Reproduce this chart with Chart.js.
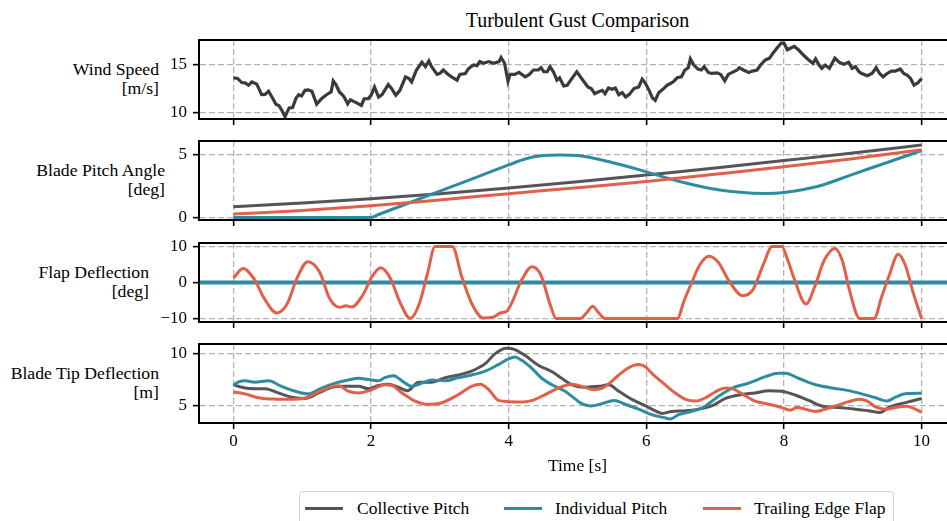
<!DOCTYPE html>
<html>
<head>
<meta charset="utf-8">
<script src="https://cdn.jsdelivr.net/npm/chart.js@4.4.1/dist/chart.umd.min.js"></script>
<style>
html, body { margin: 0; padding: 0; overflow: hidden; background: #fff; width: 947px; height: 521px; }
body { position: relative; font-family: "Liberation Serif", "Times New Roman", serif; color: #000; }
canvas { position: absolute; left: 0; }
.ylab { position: absolute; left: 0; text-align: right; font-size: 17.7px; line-height: 19px; white-space: nowrap; }
#title { position: absolute; left: 0; width: 1155px; top: 8px; text-align: center; font-size: 20px; line-height: 24px; }
#legend { position: absolute; left: 299px; top: 491px; width: 593px; height: 40px; border: 1.5px solid #d5d5d5; border-radius: 4px; }
.lg { position: absolute; top: 0; height: 32px; font-size: 17.5px; line-height: 32px; white-space: nowrap; }
.lg i { position: absolute; top: 15px; width: 38px; height: 3px; }
</style>
</head>
<body>
<div id="title">Turbulent Gust Comparison</div>
<div class="ylab" style="width:159px;top:60px">Wind Speed<br>[m/s]</div>
<div class="ylab" style="width:165px;top:161px">Blade Pitch Angle<br>[deg]</div>
<div class="ylab" style="width:149px;top:263px">Flap Deflection<br>[deg]</div>
<div class="ylab" style="width:159px;top:364px">Blade Tip Deflection<br>[m]</div>

<canvas id="p1" width="1000" height="91" style="top:36px"></canvas>
<canvas id="p2" width="1000" height="91" style="top:137px"></canvas>
<canvas id="p3" width="1000" height="91" style="top:239px"></canvas>
<canvas id="p4" width="1000" height="143" style="top:340px"></canvas>

<div id="legend">
  <div class="lg" style="left:5px"><i style="left:0;background:#555555"></i><span style="margin-left:52px">Collective Pitch</span></div>
  <div class="lg" style="left:204px"><i style="left:0;background:#2e8ba0"></i><span style="margin-left:51px">Individual Pitch</span></div>
  <div class="lg" style="left:403px"><i style="left:0;background:#e0604a"></i><span style="margin-left:51px">Trailing Edge Flap</span></div>
</div>

<script>
// series names
const seriesNames = ['Collective Pitch', 'Individual Pitch', 'Trailing Edge Flap'];
const colGray = '#555555', colTeal = '#2e8ba0', colRed = '#e0604a', colWind = '#3a3a3a';
const gridColor = '#b4b4b4';
const xTicks = [0, 2, 4, 6, 8, 10];

// wind speed [m/s]
const windT = [0,0.06,0.12,0.17,0.22,0.27,0.34,0.41,0.46,0.51,0.56,0.62,0.66,0.70,0.75,0.81,0.86,0.91,0.95,0.99,
  1.04,1.09,1.14,1.21,1.28,1.33,1.39,1.42,1.45,1.49,1.54,1.58,1.61,1.66,1.70,1.77,1.86,1.90,1.96,2.00,
  2.05,2.11,2.16,2.25,2.30,2.36,2.42,2.50,2.55,2.59,2.66,2.74,2.79,2.84,2.88,2.96,3.00,3.05,3.12,3.17,
  3.25,3.29,3.37,3.42,3.49,3.54,3.58,3.63,3.71,3.78,3.83,3.86,3.89,3.94,3.99,4.02,4.09,4.15,4.24,4.30,
  4.36,4.43,4.47,4.51,4.56,4.60,4.65,4.70,4.74,4.80,4.85,4.92,4.99,5.06,5.15,5.20,5.25,5.30,5.36,5.40,
  5.45,5.50,5.55,5.60,5.65,5.70,5.75,5.82,5.89,5.94,5.99,6.04,6.09,6.13,6.18,6.24,6.30,6.35,6.40,6.45,
  6.51,6.56,6.61,6.64,6.69,6.75,6.80,6.84,6.90,6.95,7.03,7.08,7.14,7.19,7.25,7.32,7.35,7.41,7.49,7.54,
  7.61,7.66,7.73,7.79,7.84,7.90,7.96,8.00,8.05,8.10,8.15,8.21,8.29,8.36,8.42,8.46,8.51,8.55,8.60,8.66,
  8.74,8.80,8.87,8.94,8.99,9.04,9.09,9.13,9.21,9.28,9.34,9.39,9.44,9.50,9.56,9.62,9.69,9.74,9.79,9.84,
  9.89,9.95,10.0];
const windV = [13.63,13.56,13.13,13.10,12.85,13.20,12.96,11.87,11.90,12.22,11.62,10.85,10.74,10.28,9.58,10.49,10.53,11.51,11.87,11.73,
  12.32,12.36,12.22,10.88,11.44,11.73,12.04,12.15,13.31,12.92,12.15,11.87,11.62,10.92,11.34,11.09,10.74,11.44,11.44,11.80,
  12.68,11.62,11.87,12.92,12.50,11.80,12.32,13.73,13.56,13.20,14.44,15.25,14.79,15.39,14.79,13.98,14.08,14.44,13.98,13.73,
  13.38,13.98,14.08,14.61,14.96,14.89,15.32,15.14,15.32,15.14,15.25,15.32,15.74,15.14,13.27,13.98,13.98,14.19,13.73,13.98,
  14.44,14.44,14.68,14.26,14.26,14.79,14.26,13.38,13.63,12.78,12.85,13.56,14.26,13.56,12.68,12.50,11.97,12.15,12.32,11.97,
  12.57,12.43,12.57,11.87,12.08,11.62,11.87,12.50,12.68,13.49,13.03,12.32,11.51,11.27,12.08,12.43,12.85,13.03,13.27,13.63,
  13.73,14.44,14.68,15.60,14.96,14.54,14.44,14.79,14.19,14.08,14.15,13.98,13.31,13.98,14.19,14.44,14.68,14.44,14.19,14.33,
  14.44,14.96,15.49,15.67,16.20,16.73,17.25,17.25,16.55,16.73,16.90,16.55,15.95,15.49,15.14,15.60,14.96,14.61,14.96,14.61,
  15.67,15.25,15.04,15.25,14.61,14.79,14.26,14.08,13.84,14.08,14.68,14.08,13.73,14.08,14.33,14.33,14.54,14.08,13.91,13.56,
  12.85,13.13,13.56];

// blade pitch angle [deg]
const pitchT = [0,1,2,3,4,5,6,7,8,9,10];
const pitchCollective = [0.85,1.15,1.50,1.90,2.35,2.85,3.40,3.95,4.55,5.15,5.80];
const pitchFlap = [0.27,0.55,0.93,1.40,1.90,2.38,2.87,3.45,4.05,4.70,5.42];
const pitchIndT = [0,1,2,2.1,2.5,3,3.5,4,4.25,4.5,4.75,5,5.5,6,6.5,7,7.5,7.75,8,8.5,9,9.5,10];
const pitchIndividual = [0,0,0,0.21,1.05,2.1,3.15,4.2,4.7,4.95,5.0,4.95,4.4,3.65,2.85,2.25,1.95,1.92,2.0,2.5,3.45,4.4,5.35];

// flap deflection [deg]
const flapZeroT = [-0.5,10.5];
const flapZero = [0,0];
const flapT = [0,0.14,0.3,0.45,0.63,0.78,0.92,1.08,1.25,1.4,1.55,1.63,1.72,1.88,2.02,2.14,2.28,2.42,2.57,2.7,2.82,2.93,3.18,
  3.32,3.46,3.63,3.77,3.88,3.97,4.05,4.17,4.34,4.47,4.6,4.69,5.04,5.13,5.22,5.31,5.4,6.45,6.55,6.66,6.78,6.91,7.05,7.2,7.4,
  7.55,7.7,7.83,7.97,8.05,8.15,8.32,8.45,8.58,8.74,8.85,8.95,9.1,9.31,9.42,9.53,9.66,9.76,9.88,10];
const flapV = [1.2,3.9,1.0,-4.5,-8.5,-6.0,1.0,5.8,3.0,-4.5,-6.9,-6.5,-6.8,-3.5,1.8,4.1,1.2,-5.5,-10,-6.0,2.5,10,10,
  1.5,-5.7,-9.9,-9.7,-8.5,-8.0,-5.5,0,4.4,2.0,-6,-10,-10,-8.5,-6.6,-8.5,-10,-10,-5,0,5,7.3,5.5,0.5,-3.7,
  -2,5,10,10,6.5,1,-6,-1,6,9.5,6,-2,-10,-10,-4,2,7.9,5,-3,-10];

// blade tip deflection [m]
const tipCollT = [0,0.17,0.31,0.46,0.65,0.85,1.04,1.24,1.43,1.62,1.82,1.96,2.11,2.25,2.40,2.53,2.69,2.88,3.08,3.27,3.46,3.66,
  3.80,3.97,4.09,4.24,4.43,4.63,4.77,4.92,5.11,5.31,5.45,5.60,5.79,5.99,6.13,6.23,6.37,6.57,6.76,6.95,7.15,7.39,7.58,7.78,
  7.97,8.17,8.36,8.55,8.80,9.04,9.23,9.40,9.52,9.67,9.86,10.0];
const tipCollective = [7.03,6.72,6.66,6.66,6.25,5.84,5.72,6.25,6.78,6.88,6.88,6.66,6.97,7.09,6.78,6.47,7.28,7.28,7.72,7.97,8.34,9.06,
  10.0,10.53,10.41,9.84,8.91,8.28,7.66,7.03,6.80,6.88,7.03,6.41,5.63,5.0,4.53,4.28,4.47,4.53,4.69,5.0,5.72,6.09,6.25,6.47,
  6.41,6.03,5.53,5.0,4.84,4.69,4.53,4.38,4.84,5.16,5.47,5.72];
const tipIndT = [0,0.07,0.17,0.31,0.51,0.70,0.90,1.09,1.28,1.48,1.67,1.82,1.91,2.01,2.11,2.20,2.33,2.45,2.59,2.74,2.88,3.08,
  3.27,3.46,3.66,3.85,4.0,4.09,4.19,4.34,4.48,4.63,4.82,4.97,5.06,5.19,5.36,5.53,5.69,5.89,6.08,6.28,6.35,6.47,6.66,6.86,
  7.05,7.25,7.49,7.73,7.92,8.02,8.21,8.46,8.70,8.94,9.13,9.33,9.50,9.62,9.76,10.0];
const tipIndividual = [6.97,7.28,7.41,7.28,7.41,6.88,6.41,6.16,6.72,7.19,7.5,7.66,7.59,7.5,7.41,7.72,7.91,7.41,6.88,7.19,7.5,7.41,
  7.72,7.97,8.34,8.97,9.53,9.69,9.38,8.59,7.66,7.03,6.41,5.65,5.22,5.0,5.22,5.53,5.16,4.69,4.16,3.84,3.75,4.16,4.47,5.0,
  5.94,6.72,7.19,7.81,8.13,8.13,7.66,7.03,6.72,6.47,6.16,5.78,5.47,5.84,6.16,6.22];
const tipFlapT = [0,0.17,0.36,0.56,0.75,0.99,1.14,1.28,1.43,1.53,1.67,1.82,2.01,2.20,2.30,2.45,2.64,2.83,3.03,3.27,3.46,3.59,
  3.71,3.85,4.0,4.19,4.34,4.53,4.72,4.92,5.11,5.23,5.36,5.45,5.60,5.74,5.89,5.99,6.08,6.23,6.42,6.57,6.71,6.86,7.0,7.15,
  7.25,7.39,7.58,7.78,7.97,8.09,8.19,8.31,8.46,8.60,8.75,8.94,9.09,9.21,9.33,9.47,9.62,9.76,9.86,10.0];
const tipFlap = [6.34,6.16,5.78,5.66,5.63,5.69,6.03,6.47,6.88,6.94,6.41,6.25,6.56,7.03,6.97,6.25,5.47,5.16,5.31,6.09,6.88,7.09,
  6.56,5.53,5.41,5.38,5.53,6.09,6.72,7.09,6.78,6.56,6.72,7.09,7.97,8.66,8.97,8.75,8.13,7.28,6.25,5.63,5.47,5.78,6.34,6.72,
  6.66,6.16,5.47,5.16,4.84,4.59,4.84,4.69,4.47,4.69,5.0,5.41,5.63,5.47,4.91,4.69,4.84,4.97,4.84,4.38];

function pts(ts, vs) { return ts.map((t, i) => ({x: t, y: vs[i]})); }
function fmt(v) { return v < 0 ? '\u2212' + Math.abs(v) : String(v); }

function line(label, ts, vs, color, order, smooth, width) {
  return {
    label: label, data: pts(ts, vs), borderColor: color, backgroundColor: color,
    borderWidth: width || 3, pointRadius: 0, fill: false, order: order,
    tension: smooth ? 0.4 : 0, cubicInterpolationMode: smooth ? 'monotone' : 'default'
  };
}

const frame = {
  id: 'frame',
  afterDatasetsDraw(chart) {
    const a = chart.chartArea, ctx = chart.ctx;
    ctx.save();
    ctx.strokeStyle = '#000';
    ctx.lineWidth = 2;
    ctx.strokeRect(a.left, a.top, a.right - a.left, a.bottom - a.top);
    ctx.restore();
  }
};

Chart.defaults.font.family = '"Liberation Serif", "Times New Roman", serif';
Chart.defaults.font.size = 17;
Chart.defaults.color = '#000';

function panel(id, datasets, yMin, yMax, yTicks, bottom) {
  return new Chart(document.getElementById(id), {
    type: 'line',
    data: { datasets: datasets },
    options: {
      responsive: false,
      animation: false,
      devicePixelRatio: 1,
      layout: { padding: { top: 4, right: 44, left: 0, bottom: 0 } },
      plugins: { legend: { display: false }, tooltip: { enabled: false } },
      scales: {
        x: {
          type: 'linear', min: -0.5, max: 10.5,
          afterBuildTicks: s => { s.ticks = xTicks.map(v => ({value: v})); },
          afterFit: s => { s.height = bottom ? 60 : 8; s.paddingLeft = 0; s.paddingRight = 0; },
          grid: { color: gridColor, lineWidth: 1.3, tickColor: '#000', tickLength: 6, tickWidth: 1.6, tickBorderDash: [] },
          border: { display: true, color: '#000', width: 2, dash: [6, 3] },
          ticks: { display: bottom, padding: 2, maxRotation: 0, autoSkip: false, callback: v => fmt(v) },
          title: { display: bottom, text: 'Time [s]', padding: { top: 0, bottom: 6 }, font: { size: 17.5, lineHeight: 1.2 } }
        },
        y: {
          min: yMin, max: yMax,
          afterBuildTicks: s => { s.ticks = yTicks.map(v => ({value: v})); },
          afterFit: s => { s.width = 199; s.paddingTop = 0; s.paddingBottom = 0; },
          grid: { color: gridColor, lineWidth: 1.3, tickColor: '#000', tickLength: 6, tickWidth: 1.6, tickBorderDash: [] },
          border: { display: true, color: '#000', width: 2, dash: [6, 3] },
          ticks: { padding: 6, callback: v => fmt(v) }
        }
      }
    },
    plugins: [frame]
  });
}

panel('p1', [line('Wind Speed', windT, windV, colWind, 1, false, 3.2)], 9.33, 17.57, [10, 15], false);
panel('p2', [
  line(seriesNames[0], pitchT, pitchCollective, colGray, 3, true),
  line(seriesNames[1], pitchIndT, pitchIndividual, colTeal, 2, true),
  line(seriesNames[2], pitchT, pitchFlap, colRed, 1, true)
], -0.21, 6.12, [0, 5], false);
panel('p3', [
  line(seriesNames[0], flapZeroT, flapZero, colGray, 3, false),
  line(seriesNames[1], flapZeroT, flapZero, colTeal, 2, false, 4),
  line(seriesNames[2], flapT, flapV, colRed, 1, true)
], -11, 11, [-10, 0, 10], false);
panel('p4', [
  line(seriesNames[0], tipCollT, tipCollective, colGray, 3, true),
  line(seriesNames[1], tipIndT, tipIndividual, colTeal, 2, true),
  line(seriesNames[2], tipFlapT, tipFlap, colRed, 1, true)
], 3.36, 10.95, [5, 10], true);
</script>
</body>
</html>
